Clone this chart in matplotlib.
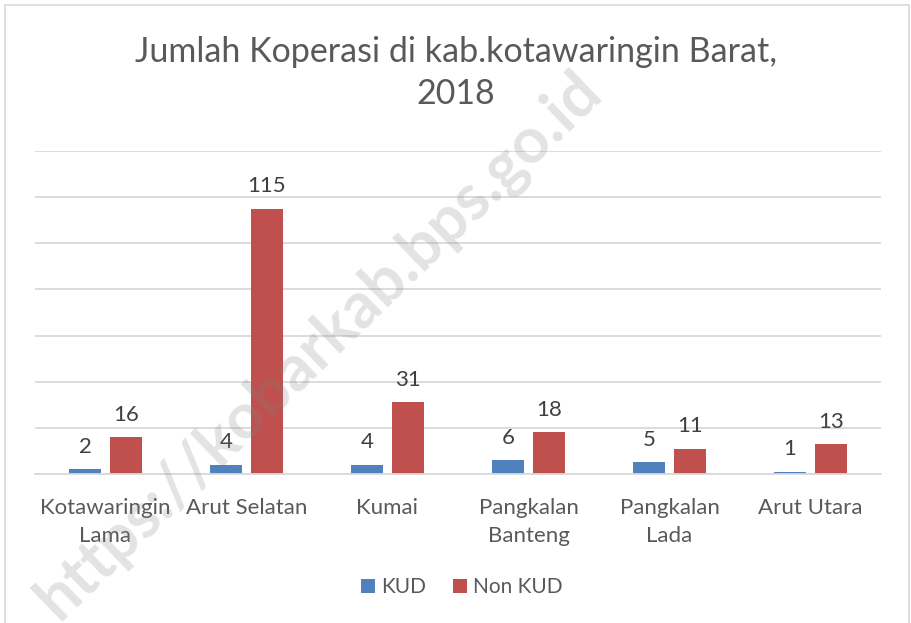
import numpy as np
import matplotlib
matplotlib.use("Agg")
import matplotlib.pyplot as plt
from matplotlib.patches import Rectangle

# data
kecamatan = ["Kotawaringin\nLama", "Arut Selatan", "Kumai",
             "Pangkalan\nBanteng", "Pangkalan\nLada", "Arut Utara"]
kud = [2, 4, 4, 6, 5, 1]
non_kud = [16, 115, 31, 18, 11, 13]
series_names = ["KUD", "Non KUD"]

plt.rcParams['font.family'] = ['Lato', 'DejaVu Sans']

blue = '#4F81BD'
red = '#C0504D'
grid_c = '#D9D9D9'
txt_c = '#595959'

fig = plt.figure(figsize=(9.12, 6.23), dpi=100)
fig.patch.set_facecolor('white')

# chart frame
fig.patches.append(Rectangle((5 / 912, -0.05), 904 / 912, 1 - 5 / 623 + 0.05,
                             transform=fig.transFigure, fill=False,
                             edgecolor=grid_c, linewidth=1.2))

ax = fig.add_axes([35 / 912, 1 - 474 / 623, 846 / 912, (474 - 151) / 623])
x = np.arange(len(kecamatan))
w = 0.227
off = 0.145
b1 = ax.bar(x - off, kud, w, color=blue, label=series_names[0], zorder=2)
b2 = ax.bar(x + off, non_kud, w, color=red, label=series_names[1], zorder=2)

for bars in (b1, b2):
    for r in bars:
        ax.annotate(f"{int(r.get_height())}", (r.get_x() + r.get_width() / 2, r.get_height()),
                    xytext=(0, 9), textcoords='offset points', ha='center', va='bottom',
                    fontsize=16, color='#404040')

ax.set_xlim(-0.5, len(kecamatan) - 0.5)
ax.set_ylim(0, 140)
ax.set_yticks(np.arange(0, 141, 20))
ax.yaxis.grid(True, color=grid_c, linewidth=1.3, zorder=0)
ax.set_axisbelow(True)
ax.tick_params(axis='y', left=False, labelleft=False)
ax.tick_params(axis='x', length=0, pad=17, labelsize=16, labelcolor=txt_c)
ax.set_xticks(x)
ax.set_xticklabels(kecamatan, linespacing=1.5)
for s in ['top', 'right', 'left']:
    ax.spines[s].set_visible(False)
ax.spines['bottom'].set_color(grid_c)
ax.spines['bottom'].set_linewidth(1.3)

fig.text(456 / 912, 1 - 73 / 623, "Jumlah Koperasi di kab.kotawaringin Barat,\n2018",
         ha='center', va='center', fontsize=24.5, color=txt_c, linespacing=1.35)

fig.legend(loc='center', bbox_to_anchor=(462 / 912, 1 - 587 / 623), ncol=2, frameon=False,
           fontsize=15, labelcolor=txt_c, handlelength=0.65, handleheight=0.65,
           handletextpad=0.3, columnspacing=1.3)

# watermark
fig.text(318 / 912, 1 - 345 / 623, "https://kobarkab.bps.go.id", rotation=44,
         ha='center', va='center', fontsize=46, fontweight='bold', color='#808080',
         alpha=0.22, zorder=10)

fig.savefig("out.png", dpi=100)
